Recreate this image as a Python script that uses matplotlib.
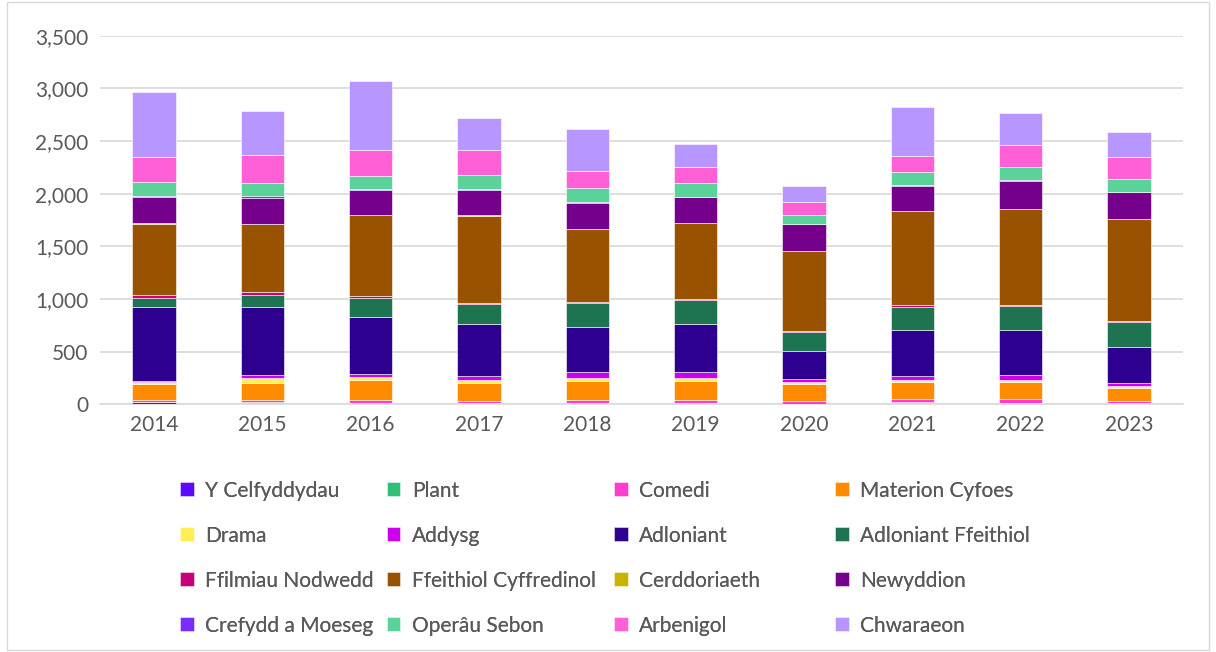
import numpy as np
import matplotlib.pyplot as plt
from matplotlib.patches import Rectangle
from matplotlib.ticker import FuncFormatter

plt.rcParams['font.family'] = ['Lato', 'DejaVu Sans']

years = ["2014", "2015", "2016", "2017", "2018", "2019", "2020", "2021", "2022", "2023"]

# values, bottom of the stack first
y_celfyddydau = [20, 15, 12, 10, 12, 12, 5, 15, 12, 7]
plant = [5, 5, 3, 2, 3, 3, 2, 3, 3, 2]
comedi = [15, 20, 30, 15, 30, 30, 20, 30, 33, 20]
materion_cyfoes = [150, 165, 183, 176, 177, 180, 166, 161, 161, 128]
drama = [25, 45, 32, 32, 32, 29, 23, 26, 26, 17]
addysg = [10, 28, 25, 38, 53, 53, 28, 31, 41, 26]
adloniant = [695, 642, 545, 494, 428, 460, 260, 438, 434, 345]
adloniant_ffeithiol = [90, 115, 178, 184, 223, 225, 184, 221, 225, 238]
ffilmiau_nodwedd = [25, 28, 19, 7, 9, 5, 6, 16, 9, 9]
ffeithiol_cyffredinol = [680, 646, 768, 833, 697, 721, 761, 894, 913, 967]
cerddoriaeth = [8, 3, 5, 3, 2, 2, 2, 2, 2, 2]
newyddion = [250, 243, 235, 241, 248, 251, 252, 239, 265, 252]
crefydd = [10, 19, 13, 13, 3, 2, 3, 3, 3, 3]
operau_sebon = [125, 124, 123, 127, 134, 126, 83, 124, 127, 121]
arbenigol = [245, 266, 242, 238, 165, 158, 129, 158, 206, 215]
chwaraeon = [610, 422, 662, 304, 399, 212, 146, 463, 310, 232]

series = [
    ("Y Celfyddydau", y_celfyddydau, "#5A0AFF"),
    ("Plant", plant, "#2FBF78"),
    ("Comedi", comedi, "#FF3CCF"),
    ("Materion Cyfoes", materion_cyfoes, "#FF8C00"),
    ("Drama", drama, "#FFEE55"),
    ("Addysg", addysg, "#CC00EE"),
    ("Adloniant", adloniant, "#2E0090"),
    ("Adloniant Ffeithiol", adloniant_ffeithiol, "#1E7450"),
    ("Ffilmiau Nodwedd", ffilmiau_nodwedd, "#C8007A"),
    ("Ffeithiol Cyffredinol", ffeithiol_cyffredinol, "#995200"),
    ("Cerddoriaeth", cerddoriaeth, "#C8B400"),
    ("Newyddion", newyddion, "#74008C"),
    ("Crefydd a Moeseg", crefydd, "#7A2CFF"),
    ("Operâu Sebon", operau_sebon, "#5AD29A"),
    ("Arbenigol", arbenigol, "#FF60D8"),
    ("Chwaraeon", chwaraeon, "#B896FF"),
]

fig = plt.figure(figsize=(12.16, 6.52), dpi=100)
ax = fig.add_axes([0.082, 0.380, 0.891, 0.565])

x = np.arange(len(years))
bottom = np.zeros(len(years))
handles = []
for name, vals, col in series:
    b = ax.bar(x, vals, 0.4, bottom=bottom, color=col, label=name,
               edgecolor="white", linewidth=0.4, zorder=3)
    handles.append(b)
    bottom += np.array(vals)

ax.set_xlim(-0.5, len(years) - 0.5)
ax.set_ylim(0, 3500)
ax.set_yticks(np.arange(0, 3501, 500))
ax.yaxis.set_major_formatter(FuncFormatter(lambda v, p: f"{int(v):,}"))
ax.set_xticks(x)
ax.set_xticklabels(years)
ax.grid(axis="y", color="#d9d9d9", linewidth=1.2, zorder=0)
for s in ["top", "right", "left"]:
    ax.spines[s].set_visible(False)
ax.spines["bottom"].set_color("#d9d9d9")
ax.spines["bottom"].set_linewidth(1.2)
ax.tick_params(axis="both", length=0, labelsize=15, colors="#595959", pad=8)

# legend: four columns placed one by one, filled row by row
col_x = [0.148, 0.318, 0.505, 0.687]
for c in range(4):
    idx = [r * 4 + c for r in range(4)]
    leg = fig.legend([handles[i] for i in idx], [series[i][0] for i in idx],
                     loc="upper left", bbox_to_anchor=(col_x[c], 0.263),
                     frameon=False, fontsize=15, labelcolor="#595959",
                     handlelength=0.65, handleheight=0.65, handletextpad=0.55,
                     labelspacing=1.2, borderpad=0, borderaxespad=0)
    fig.add_artist(leg)

fig.patches.append(Rectangle((0.006, 0.003), 0.988, 0.994, transform=fig.transFigure,
                             fill=False, edgecolor="#d9d9d9", linewidth=1))

fig.savefig("out.png", dpi=100)
